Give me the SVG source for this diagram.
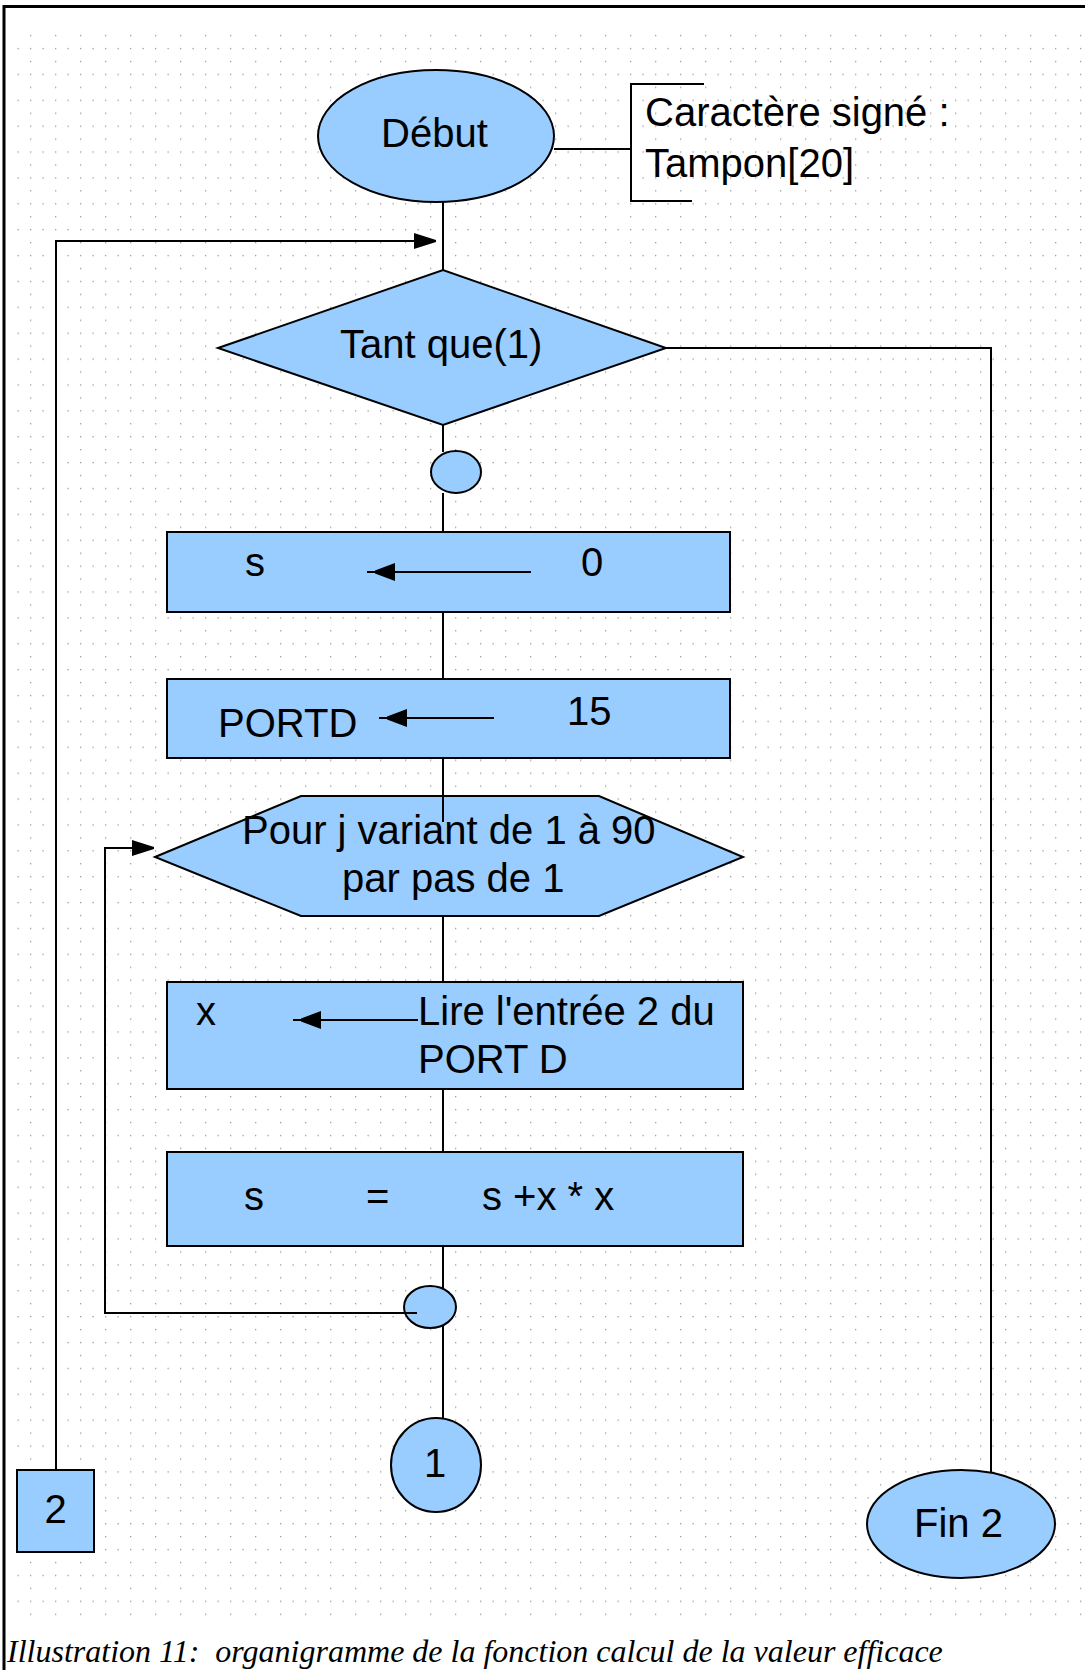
<svg xmlns="http://www.w3.org/2000/svg" width="1085" height="1670" viewBox="0 0 1085 1670">
<style>
.shape{fill:#99CCFF;stroke:#000;stroke-width:2}
.ln{fill:none;stroke:#000;stroke-width:2}
.t{font-family:"Liberation Sans",Arial,sans-serif;font-size:40px;fill:#000}
.cap{font-family:"Liberation Serif","Times New Roman",serif;font-style:italic;font-size:32px;fill:#000;white-space:pre}
.d{fill:#9c9c9c}
</style>
<defs>
<pattern id="grid" x="5" y="22" width="25" height="25.88" patternUnits="userSpaceOnUse">
<rect class="d" x="0" y="0" width="1.3" height="1.3"/>
<rect class="d" x="12.5" y="0" width="1.3" height="1.3"/>
<rect class="d" x="0" y="12.94" width="1.3" height="1.3"/>
</pattern>
<marker id="ahs" markerUnits="userSpaceOnUse" markerWidth="32" markerHeight="22" viewBox="0 -11 32 22" refX="28" refY="0" orient="auto">
<path d="M0,-9 L20,-1.5 L20,1.5 L0,9 Z" fill="#000"/>
</marker>
<marker id="ah" markerUnits="userSpaceOnUse" markerWidth="26" markerHeight="20" viewBox="0 -10 26 20" refX="22" refY="0" orient="auto">
<path d="M0,-8 L22,-1 L22,1 L0,8 Z" fill="#000"/>
</marker>
</defs>
<rect x="0" y="0" width="1085" height="1670" fill="#fff"/>
<rect x="8" y="28" width="1077" height="1592" fill="url(#grid)"/>
<path d="M4,1670 V6.5 H1085" fill="none" stroke="#000" stroke-width="3"/>

<g id="debut">
<ellipse class="shape" cx="436" cy="136" rx="118" ry="66"/>
<text class="t" x="381" y="147">Début</text>
</g>
<g id="note">
<path class="ln" d="M704,84 H631 V201 H692"/>
<text class="t" x="645" y="126">Caractère signé :</text>
<text class="t" x="645" y="177">Tampon[20]</text>
</g>
<g id="tantque">
<polygon class="shape" points="218,348 443,270 666,348 443,425"/>
<text class="t" x="340" y="358">Tant que(1)</text>
</g>
<g id="jonction1">
<ellipse class="shape" cx="456" cy="472" rx="25" ry="21"/>
</g>
<g id="s-init">
<rect class="shape" x="167" y="532" width="563" height="80"/>
<text class="t" x="245" y="576">s</text>
<line class="ln" x1="531" y1="572" x2="367" y2="572" marker-end="url(#ahs)"/>
<text class="t" x="581" y="576">0</text>
</g>
<g id="portd">
<rect class="shape" x="167" y="679" width="563" height="79"/>
<text class="t" x="218" y="737">PORTD</text>
<line class="ln" x1="494" y1="718" x2="379" y2="718" marker-end="url(#ahs)"/>
<text class="t" x="567" y="725">15</text>
</g>
<g id="pour">
<polygon class="shape" points="155,857 301,796 599,796 743,857 599,916 301,916"/>
<text class="t" x="242" y="844">Pour j variant de 1 à 90</text>
<text class="t" x="342" y="892">par pas de 1</text>
</g>
<g id="lire">
<rect class="shape" x="167" y="982" width="576" height="107"/>
<text class="t" x="196" y="1025">x</text>
<line class="ln" x1="418" y1="1020" x2="293" y2="1020" marker-end="url(#ahs)"/>
<text class="t" x="418" y="1025">Lire l'entrée 2 du</text>
<text class="t" x="418" y="1073">PORT D</text>
</g>
<g id="somme">
<rect class="shape" x="167" y="1152" width="576" height="94"/>
<text class="t" y="1210"><tspan x="244">s</tspan><tspan x="366">=</tspan><tspan x="482">s +x * x</tspan></text>
</g>
<g id="jonction2">
<ellipse class="shape" cx="430" cy="1307" rx="26" ry="21"/>
</g>
<g id="renvoi1">
<ellipse class="shape" cx="436" cy="1465" rx="45" ry="47"/>
<text class="t" x="435" y="1477" text-anchor="middle">1</text>
</g>
<g id="renvoi2">
<rect class="shape" x="17" y="1470" width="77" height="82"/>
<text class="t" x="55.5" y="1523" text-anchor="middle">2</text>
</g>
<g id="fin2">
<ellipse class="shape" cx="961" cy="1524" rx="94" ry="54"/>
<text class="t" x="914" y="1537">Fin 2</text>
</g>

<g id="connectors">
<line class="ln" x1="554" y1="149" x2="631" y2="149"/>
<line class="ln" x1="443" y1="202" x2="443" y2="270"/>
<path class="ln" d="M56,1470 V241 H436" marker-end="url(#ah)"/>
<line class="ln" x1="443" y1="425" x2="443" y2="452"/>
<line class="ln" x1="443" y1="493" x2="443" y2="532"/>
<line class="ln" x1="443" y1="612" x2="443" y2="679"/>
<line class="ln" x1="443" y1="758" x2="443" y2="822"/>
<line class="ln" x1="443" y1="916" x2="443" y2="982"/>
<line class="ln" x1="443" y1="1089" x2="443" y2="1152"/>
<line class="ln" x1="443" y1="1246" x2="443" y2="1289"/>
<line class="ln" x1="443" y1="1326" x2="443" y2="1418"/>
<path class="ln" d="M417,1313 H105 V848 H154" marker-end="url(#ah)"/>
<path class="ln" d="M666,348 H991 V1472"/>
</g>

<text class="cap" x="7" y="1662">Illustration 11:  organigramme de la fonction calcul de la valeur efficace</text>
</svg>
